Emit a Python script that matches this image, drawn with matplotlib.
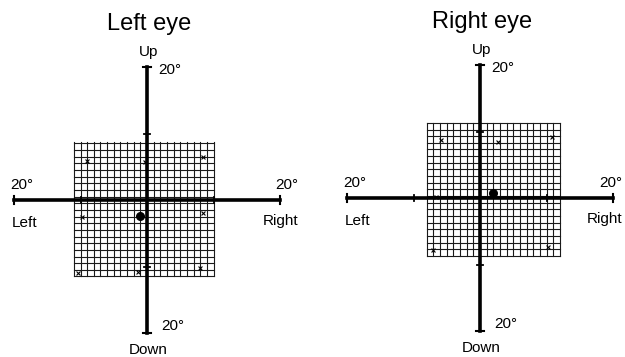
import matplotlib.pyplot as plt
import numpy as np

plt.rcParams['font.family'] = ['Liberation Sans', 'DejaVu Sans']

# panel titles and axis labels
titles = ["Left eye", "Right eye"]
axis_limit = 20          # degrees at the end of each axis
half_ticks = [-10, 10]   # small ticks on the axes

# extent of the grid paper on each eye (degrees): x0, x1, y0, y1
grid_left_eye = [-11, 10, -11.5, 8.7]
grid_right_eye = [-8, 12, -8.7, 11.3]

# stray marks recorded on the grid (degrees)
marks_left_x = [-9.0, 8.4, -9.8, 8.4, 8.0, -10.4, -1.3, -0.3]
marks_left_y = [5.8, 6.4, -2.5, -2.0, -10.3, -11.0, -10.8, 5.7]
marks_right_x = [-5.9, 2.7, 10.8, -7.1, 10.2, -6.6]
marks_right_y = [8.7, 8.4, 9.2, -7.8, -7.3, 0.2]

# fixation blob per eye
blob_left = (-1.0, -2.4)
blob_right = (2.0, 0.8)

W, H = 625, 357
s = 6.65  # px per degree
fig = plt.figure(figsize=(W / 100, H / 100), dpi=100)


def make_panel(cx, cy, title, grid, mx, my, blob, right_edge):
    cyb = H - cy
    ax = fig.add_axes([(cx - 24 * s) / W, (cyb - 27 * s) / H, 48 * s / W, 54 * s / H])
    ax.set_xlim(-24, 24)
    ax.set_ylim(-27, 27)
    ax.axis('off')

    # grid paper
    x0, x1, y0, y1 = grid
    for gx in np.arange(x0, x1 + 0.01, 1.0):
        ax.plot([gx, gx], [y0, y1], color='#1a1a1a', lw=0.8, zorder=1)
    for gy in np.arange(y0, y1 + 0.01, 1.0):
        ax.plot([x0, x1], [gy, gy], color='#1a1a1a', lw=0.8, zorder=1)

    # main axes
    ax.plot([-axis_limit, axis_limit], [0, 0], color='black', lw=2.6, zorder=3)
    ax.plot([0, 0], [-axis_limit, axis_limit], color='black', lw=2.6, zorder=3)
    for e in [-axis_limit, axis_limit]:
        ax.plot([e, e], [-0.6, 0.6], color='black', lw=1.5, zorder=3)
        ax.plot([-0.6, 0.6], [e, e], color='black', lw=1.5, zorder=3)
    for t in half_ticks:
        ax.plot([t, t], [-0.5, 0.5], color='black', lw=1.3, zorder=3)
        ax.plot([-0.5, 0.5], [t, t], color='black', lw=1.3, zorder=3)

    ax.scatter(mx, my, marker='x', s=8, color='black', lw=0.8, zorder=4)
    ax.scatter([blob[0]], [blob[1]], marker='o', s=30, color='black', zorder=4)

    # labels
    ax.text(0.3, 26.4, title, ha='center', va='center', fontsize=17)
    ax.text(0.3, 22.3, "Up", ha='center', va='center', fontsize=11)
    ax.text(1.7, 19.6, "20°", ha='left', va='center', fontsize=11)
    ax.text(2.2, -19.0, "20°", ha='left', va='center', fontsize=11)
    ax.text(0.2, -22.6, "Down", ha='center', va='center', fontsize=11)
    ax.text(-20.6, 2.3, "20°", ha='left', va='center', fontsize=11)
    ax.text(-20.3, -3.4, "Left", ha='left', va='center', fontsize=11)
    ax.text(right_edge, 2.3, "20°", ha='right', va='center', fontsize=11)
    ax.text(right_edge, -3.2, "Right", ha='right', va='center', fontsize=11)


make_panel(147, 200, titles[0], grid_left_eye, marks_left_x, marks_left_y, blob_left, 22.7)
make_panel(480, 198, titles[1], grid_right_eye, marks_right_x, marks_right_y, blob_right, 21.4)

fig.savefig("out.png", dpi=100)
